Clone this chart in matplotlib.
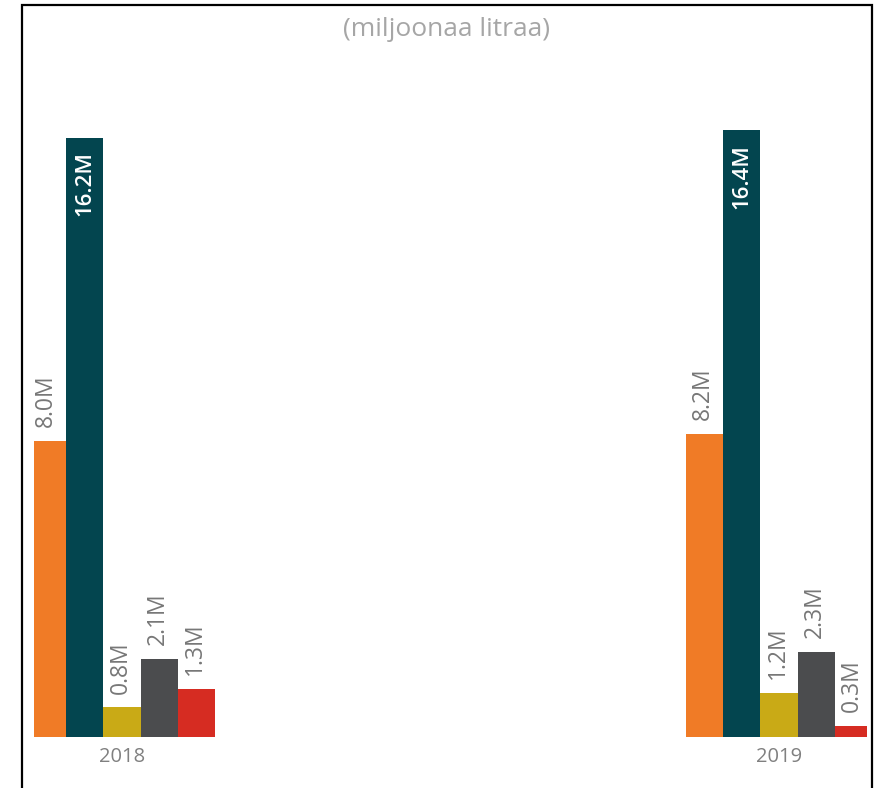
import matplotlib.pyplot as plt
from matplotlib.patches import Rectangle

# data (million litres)
years = ["2018", "2019"]
series_2018 = [8.0, 16.2, 0.8, 2.1, 1.3]
series_2019 = [8.2, 16.4, 1.2, 2.3, 0.3]
colors = ["#F07B26", "#03454F", "#C9AA16", "#4B4C4E", "#D62C22"]
inside = [False, True, False, False, False]

plt.rcParams['font.family'] = ['Open Sans', 'DejaVu Sans']

fig = plt.figure(figsize=(8.77, 7.88), dpi=100)
W, H = 877, 788

# axes placed in pixel terms
left, right, base, top = 34, 867, 737, 60
ax = fig.add_axes([left / W, (H - base) / H, (right - left) / W, (base - top) / H])

unit = 657.0      # px between group centres
first = 122.0     # px of first group centre
bw = 37.2 / unit
values = [series_2018, series_2019]
for g, vals in enumerate(values):
    for i, v in enumerate(vals):
        x = g + (i - 2) * bw
        ax.bar(x, v, width=bw, color=colors[i], edgecolor="none")
        if inside[i]:
            ax.annotate(f"{v:.1f}M", (x, v), xytext=(0, -10), textcoords="offset points",
                        ha="center", va="top", rotation=90, color="white",
                        fontsize=16, fontweight="semibold")
        else:
            ax.annotate(f"{v:.1f}M", (x, v), xytext=(-1, 10), textcoords="offset points",
                        ha="center", va="bottom", rotation=90, color="#777777",
                        fontsize=16.5)

ax.set_xlim(-(first - left) / unit, (right - first) / unit)
ax.set_ylim(0, (base - top) / 37.0)
ax.set_xticks([0, 1])
ax.set_xticklabels(years, fontsize=14.5, color="#808080")
ax.tick_params(axis="x", length=0, pad=7)
ax.set_yticks([])
for s in ax.spines.values():
    s.set_visible(False)

fig.text(447 / W, 1 - 29 / H, "(miljoonaa litraa)", ha="center", va="center",
         fontsize=19, color="#A6A6A6")

# frame around the visual
fig.patches.append(Rectangle((22 / W, -0.05), (872 - 22) / W, 1.05 - 5 / H,
                             transform=fig.transFigure, fill=False,
                             edgecolor="black", linewidth=1.6))

fig.savefig("out.png", dpi=100)
